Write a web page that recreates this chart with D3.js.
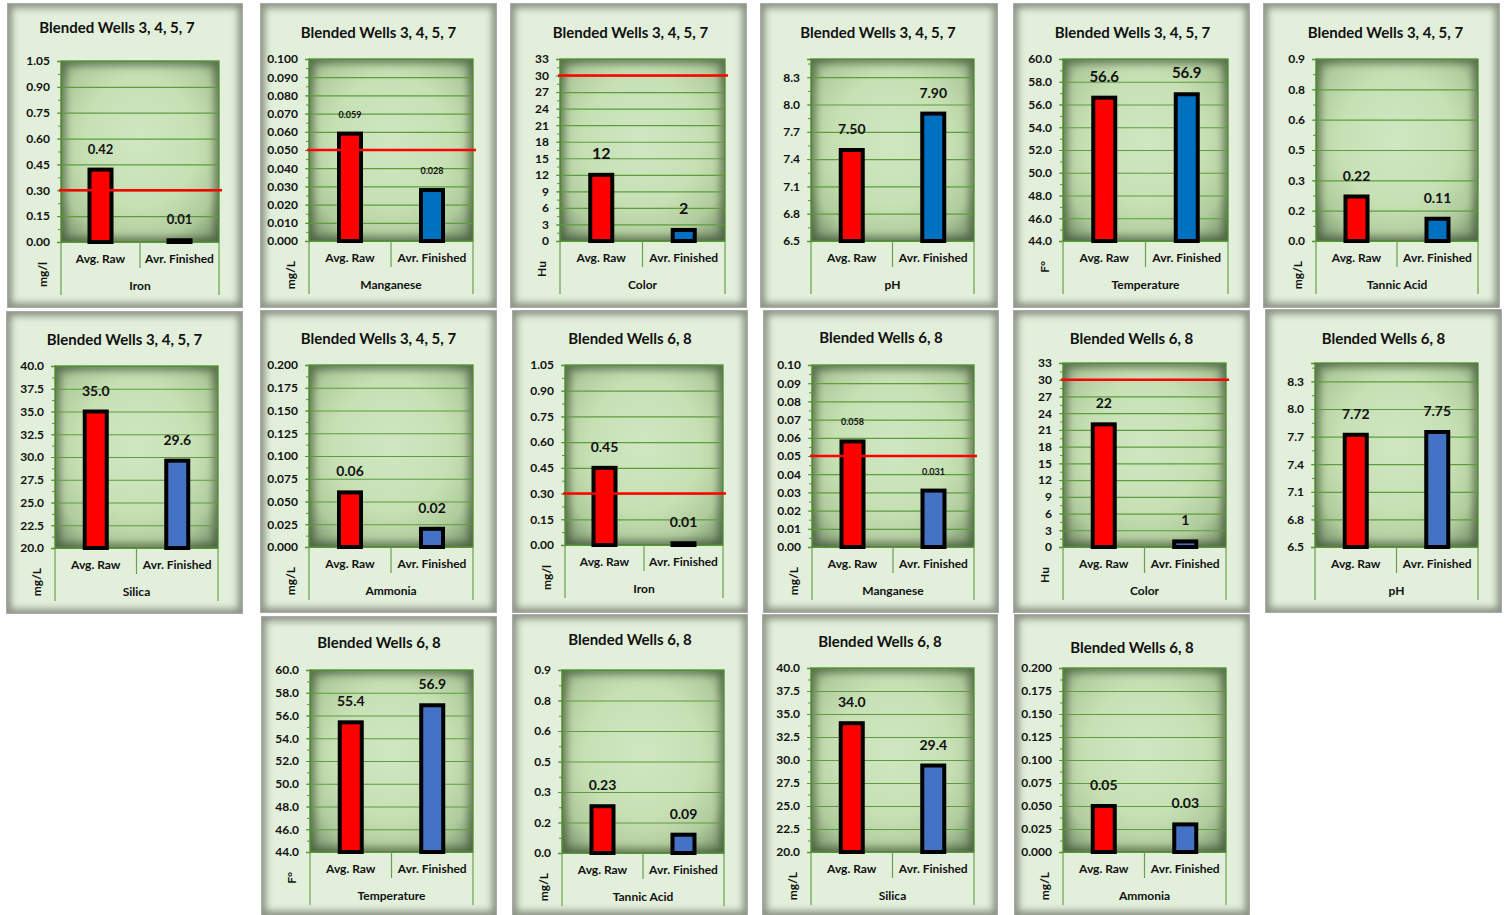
<!DOCTYPE html>
<html>
<head>
<meta charset="utf-8">
<script src="https://cdn.jsdelivr.net/npm/d3@7"></script>
<style>
  body { margin: 0; background: #fff; }
  svg { display: block; font-family: Lato, 'Open Sans', sans-serif; font-weight: bold; }
</style>
</head>
<body>
<svg id="chart" width="1508" height="915"></svg>
<script>

// Data (one entry per small chart, left to right, top to bottom)
var chartTitles = [
    'Blended Wells 3, 4, 5, 7', 'Blended Wells 3, 4, 5, 7', 'Blended Wells 3, 4, 5, 7',
    'Blended Wells 3, 4, 5, 7', 'Blended Wells 3, 4, 5, 7', 'Blended Wells 3, 4, 5, 7',
    'Blended Wells 3, 4, 5, 7', 'Blended Wells 3, 4, 5, 7', 'Blended Wells 6, 8',
    'Blended Wells 6, 8', 'Blended Wells 6, 8', 'Blended Wells 6, 8',
    'Blended Wells 6, 8', 'Blended Wells 6, 8', 'Blended Wells 6, 8', 'Blended Wells 6, 8'
];
var parameters = ['Iron', 'Manganese', 'Color', 'pH', 'Temperature', 'Tannic Acid', 'Silica', 'Ammonia',
                  'Iron', 'Manganese', 'Color', 'pH', 'Temperature', 'Tannic Acid', 'Silica', 'Ammonia'];
var units = ['mg/l', 'mg/L', 'Hu', '', 'F°', 'mg/L', 'mg/L', 'mg/L',
             'mg/l', 'mg/L', 'Hu', '', 'F°', 'mg/L', 'mg/L', 'mg/L'];
var categories = ['Avg. Raw', 'Avr. Finished'];
var avgRaw      = [0.42, 0.059, 12, 7.50, 56.6, 0.22, 35.0, 0.06, 0.45, 0.058, 22, 7.72, 55.4, 0.23, 34.0, 0.05];
var avrFinished = [0.01, 0.028, 2, 7.90, 56.9, 0.11, 29.6, 0.02, 0.01, 0.031, 1, 7.75, 56.9, 0.09, 29.4, 0.03];
var limits      = [0.3, 0.05, 30, null, null, null, null, null, 0.3, 0.05, 30, null, null, null, null, null];
//  Axis settings
var yMin  = [0, 0, 0, 6.5, 44, 0, 20, 0, 0, 0, 0, 6.5, 44, 0, 20, 0];
var yMax  = [1.05, 0.1, 33, 8.5, 60, 0.9, 40, 0.2, 1.05, 0.1, 33, 8.5, 60, 0.9, 40, 0.2];
var yStep = [0.15, 0.01, 3, 0.3, 2, 0.15, 2.5, 0.025, 0.15, 0.01, 3, 0.3, 2, 0.15, 2.5, 0.025];
var tickDecimals  = [2, 3, 0, 1, 1, 1, 1, 3, 2, 2, 0, 1, 1, 1, 1, 3];
var valueDecimals = [2, 3, 0, 2, 1, 2, 1, 2, 2, 3, 0, 2, 1, 2, 1, 2];


// Styles
var rawColor = '#ff0000';
var finishedColors = ['#0070c0', '#0070c0', '#0070c0', '#0070c0', '#0070c0', '#0070c0', '#4472c4', '#4472c4',
                      '#4472c4', '#4472c4', '#4472c4', '#4472c4', '#4472c4', '#4472c4', '#4472c4', '#4472c4'];
var labelSizes = [13, 9, 16, 14, 15, 14, 14, 14, 14, 9, 14, 14, 14, 14, 14, 14];
var gridColor = '#5e9c3f';

// Layout: frame box (x, y, w, h), plot box (px, py, pw, ph), title baseline ty, title shift tdx
var layout = [
    {x: 7,    y: 3,   w: 236, h: 305, px: 61,   py: 61,  pw: 158, ph: 181, ty: 33,  tdx: -8},
    {x: 260,  y: 3,   w: 237, h: 305, px: 309,  py: 59,  pw: 164, ph: 182, ty: 38,  tdx: 0},
    {x: 510,  y: 3,   w: 237, h: 305, px: 560,  py: 59,  pw: 165, ph: 182, ty: 38,  tdx: 2},
    {x: 760,  y: 3,   w: 238, h: 305, px: 811,  py: 59,  pw: 163, ph: 182, ty: 38,  tdx: -1},
    {x: 1013, y: 3,   w: 237, h: 305, px: 1063, py: 59,  pw: 165, ph: 182, ty: 38,  tdx: 1},
    {x: 1263, y: 3,   w: 237, h: 305, px: 1316, py: 59,  pw: 162, ph: 182, ty: 38,  tdx: 4},
    {x: 6,    y: 311, w: 237, h: 303, px: 55,   py: 366, pw: 163, ph: 182, ty: 345, tdx: 0},
    {x: 260,  y: 310, w: 237, h: 303, px: 309,  py: 365, pw: 164, ph: 182, ty: 344, tdx: 0},
    {x: 512,  y: 310, w: 236, h: 303, px: 565,  py: 365, pw: 158, ph: 180, ty: 344, tdx: 0},
    {x: 763,  y: 310, w: 236, h: 303, px: 812,  py: 365, pw: 162, ph: 182, ty: 343, tdx: 0},
    {x: 1013, y: 310, w: 237, h: 303, px: 1063, py: 363, pw: 163, ph: 184, ty: 344, tdx: 0},
    {x: 1265, y: 309, w: 237, h: 304, px: 1315, py: 363, pw: 163, ph: 184, ty: 344, tdx: 0},
    {x: 261,  y: 616, w: 236, h: 300, px: 310,  py: 670, pw: 163, ph: 182, ty: 648, tdx: 0},
    {x: 512,  y: 614, w: 236, h: 302, px: 562,  py: 670, pw: 162, ph: 183, ty: 645, tdx: 0},
    {x: 762,  y: 614, w: 236, h: 302, px: 811,  py: 668, pw: 163, ph: 184, ty: 647, tdx: 0},
    {x: 1014, y: 614, w: 236, h: 302, px: 1063, py: 668, pw: 163, ph: 184, ty: 653, tdx: 0}
];


var svg = d3.select('#chart');
var defs = svg.append('defs');

// Plot area vignette
var plotGrad = defs.append('radialGradient')
    .attr('id', 'plotFill')
    .attr('cx', '50%').attr('cy', '45%').attr('r', '72%');
plotGrad.selectAll('stop')
    .data([[0, '#d0e7c2'], [0.5, '#c6e0b4'], [0.76, '#b0cb9c'], [1, '#75906a']])
    .enter().append('stop')
    .attr('offset', function(d){ return d[0]; })
    .attr('stop-color', function(d){ return d[1]; });

defs.append('filter').attr('id', 'softEdge')
    .append('feGaussianBlur').attr('stdDeviation', 3.5);


// Round half up so 0.15 -> 0.2, 0.45 -> 0.5 (like the spreadsheet does)
function fixed(v, p) {
    var m = Math.pow(10, p);
    return (Math.round(+(v * m).toFixed(6)) / m).toFixed(p);
}


function drawPanel(i) {
    var L = layout[i];
    var g = svg.append('g').attr('class', 'panel');

    // Frame with an inner shadow
    var frameClip = 'frameClip' + i;
    defs.append('clipPath').attr('id', frameClip)
        .append('rect').attr('x', L.x).attr('y', L.y).attr('width', L.w).attr('height', L.h);
    g.append('rect')
        .attr('x', L.x).attr('y', L.y).attr('width', L.w).attr('height', L.h)
        .attr('fill', '#e2efda');
    g.append('g').attr('clip-path', 'url(#' + frameClip + ')')
        .append('rect')
        .attr('x', L.x).attr('y', L.y).attr('width', L.w).attr('height', L.h)
        .attr('fill', 'none').attr('stroke', '#4f534a').attr('stroke-width', 10)
        .attr('opacity', 0.6).attr('filter', 'url(#softEdge)');
    g.append('rect')
        .attr('x', L.x + 0.5).attr('y', L.y + 0.5).attr('width', L.w - 1).attr('height', L.h - 1)
        .attr('fill', 'none').attr('stroke', '#a9a9a9');

    // Title
    g.append('text')
        .attr('x', L.x + L.w / 2 + L.tdx).attr('y', L.ty)
        .attr('text-anchor', 'middle')
        .style('font-size', '15px').attr('fill', '#111')
        .text(chartTitles[i]);

    var pb = L.py + L.ph;
    var y = d3.scaleLinear().domain([yMin[i], yMax[i]]).range([pb, L.py]);
    var x = d3.scaleBand().domain(categories).range([L.px, L.px + L.pw]);

    var nMajor = Math.floor((yMax[i] - yMin[i]) / yStep[i] + 1e-6);
    var majorTicks = d3.range(nMajor + 1).map(function(k){ return yMin[i] + k * yStep[i]; });
    var nMinor = Math.floor((yMax[i] - yMin[i]) / (yStep[i] / 2) + 1e-6);
    var minorTicks = d3.range(nMinor + 1).map(function(k){ return yMin[i] + k * yStep[i] / 2; });

    // Plot area with darker edges
    var plotClip = 'plotClip' + i;
    defs.append('clipPath').attr('id', plotClip)
        .append('rect').attr('x', L.px).attr('y', L.py).attr('width', L.pw).attr('height', L.ph);
    g.append('rect')
        .attr('x', L.px).attr('y', L.py).attr('width', L.pw).attr('height', L.ph)
        .attr('fill', 'url(#plotFill)');
    g.append('g').attr('clip-path', 'url(#' + plotClip + ')')
        .append('rect')
        .attr('x', L.px).attr('y', L.py).attr('width', L.pw).attr('height', L.ph)
        .attr('fill', 'none').attr('stroke', '#34432c').attr('stroke-width', 10)
        .attr('opacity', 0.55).attr('filter', 'url(#softEdge)');

    // Gridlines
    var grid = g.append('g')
        .attr('transform', 'translate(' + L.px + ',0)')
        .call(d3.axisLeft(y).tickValues(majorTicks.slice(1)).tickSize(-L.pw).tickFormat(''));
    grid.select('.domain').remove();
    grid.selectAll('line').attr('stroke', gridColor).attr('stroke-width', 1.2);

    // Plot border
    g.append('rect')
        .attr('x', L.px).attr('y', L.py).attr('width', L.pw).attr('height', L.ph)
        .attr('fill', 'none').attr('stroke', '#4f8a30').attr('stroke-width', 1.3);

    // Minor ticks
    var minor = g.append('g')
        .attr('transform', 'translate(' + L.px + ',0)')
        .call(d3.axisLeft(y).tickValues(minorTicks).tickSize(3).tickFormat(''));
    minor.select('.domain').remove();
    minor.selectAll('line').attr('stroke', '#5e8f45');

    // Y axis
    var yAxis = g.append('g')
        .attr('transform', 'translate(' + L.px + ',0)')
        .call(d3.axisLeft(y).tickValues(majorTicks).tickSize(4).tickPadding(7)
            .tickFormat(function(v){ return fixed(v, tickDecimals[i]); }));
    yAxis.select('.domain').attr('stroke', '#4f8a30').attr('stroke-width', 1.3);
    yAxis.selectAll('line').attr('stroke', '#5e8f45');
    yAxis.selectAll('text')
        .style('font-family', 'Lato, sans-serif').style('font-weight', 'bold')
        .style('font-size', '12px').attr('fill', '#111');

    // Category axis: baseline, separators, labels
    g.append('line')
        .attr('x1', L.px).attr('x2', L.px + L.pw).attr('y1', pb).attr('y2', pb)
        .attr('stroke', '#4f8a30').attr('stroke-width', 1.3);
    var seps = [
        {xv: L.px, len: 53},
        {xv: L.px + L.pw / 2, len: 26},
        {xv: L.px + L.pw, len: 53}
    ];
    g.selectAll('line.sep').data(seps).enter().append('line')
        .attr('class', 'sep')
        .attr('x1', function(d){ return d.xv; }).attr('x2', function(d){ return d.xv; })
        .attr('y1', pb).attr('y2', function(d){ return pb + d.len; })
        .attr('stroke', '#6e9e52').attr('stroke-width', 1.2);

    g.selectAll('text.cat').data(categories).enter().append('text')
        .attr('class', 'cat')
        .attr('x', function(d){ return x(d) + x.bandwidth() / 2; })
        .attr('y', pb + 21)
        .attr('text-anchor', 'middle')
        .style('font-size', '12px').attr('fill', '#111')
        .text(function(d){ return d; });

    g.append('text')
        .attr('x', L.px + L.pw / 2).attr('y', pb + 48)
        .attr('text-anchor', 'middle')
        .style('font-size', '12px').attr('fill', '#111')
        .text(parameters[i]);

    // Unit title (rotated)
    if (units[i]) {
        g.append('text')
            .attr('transform', 'translate(' + (L.px - 14) + ',' + (pb + 20) + ') rotate(-90)')
            .attr('text-anchor', 'end')
            .style('font-size', '12px').attr('fill', '#111')
            .text(units[i]);
    }

    // Bars
    var barData = [
        {cat: categories[0], value: avgRaw[i], color: rawColor},
        {cat: categories[1], value: avrFinished[i], color: finishedColors[i]}
    ];
    var barW = 22;
    g.selectAll('rect.bar').data(barData).enter().append('rect')
        .attr('class', 'bar')
        .attr('x', function(d){ return x(d.cat) + x.bandwidth() / 2 - barW / 2; })
        .attr('y', function(d){ return y(d.value); })
        .attr('width', barW)
        .attr('height', function(d){ return pb - y(d.value); })
        .attr('fill', function(d){ return d.color; })
        .attr('stroke', '#000').attr('stroke-width', 4);

    // Limit line
    if (limits[i] !== null) {
        g.append('line')
            .attr('x1', L.px - 2).attr('x2', L.px + L.pw + 3)
            .attr('y1', y(limits[i])).attr('y2', y(limits[i]))
            .attr('stroke', '#ff0000').attr('stroke-width', 2.5);
    }

    // Value labels
    g.selectAll('text.val').data(barData).enter().append('text')
        .attr('class', 'val')
        .attr('x', function(d){ return x(d.cat) + x.bandwidth() / 2; })
        .attr('y', function(d){ return y(d.value) - 16; })
        .attr('text-anchor', 'middle')
        .style('font-size', labelSizes[i] + 'px').attr('fill', '#111')
        .text(function(d){ return d.value.toFixed(valueDecimals[i]); });
}

d3.range(chartTitles.length).forEach(drawPanel);

</script>
</body>
</html>
